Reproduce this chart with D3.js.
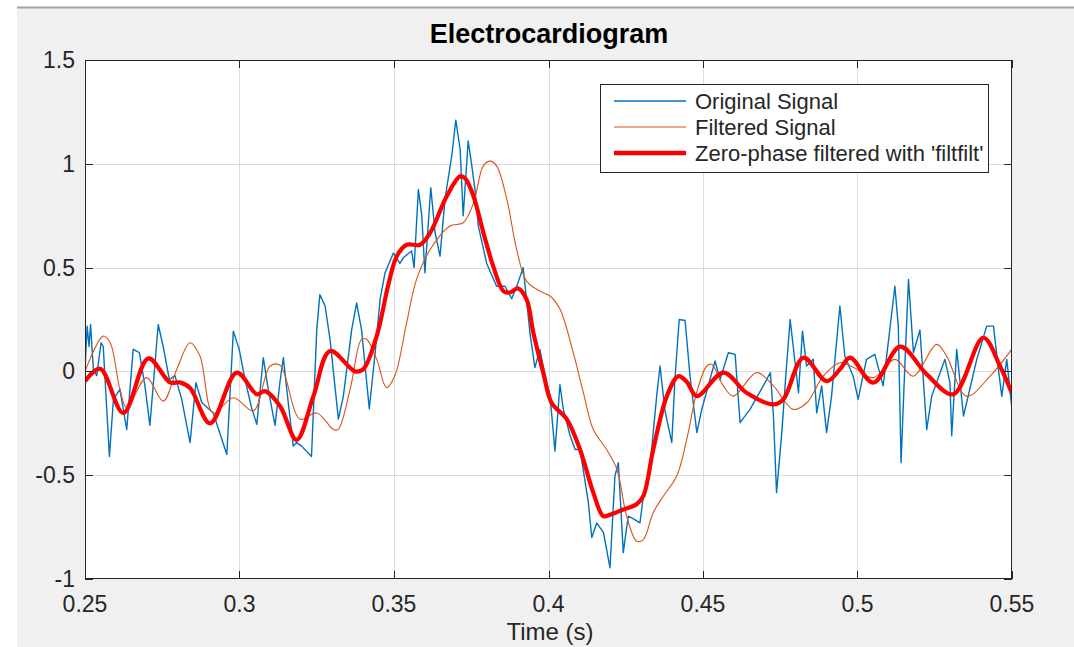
<!DOCTYPE html>
<html><head><meta charset="utf-8">
<script src="https://cdn.jsdelivr.net/npm/d3@7"></script>
<style>body{margin:0;background:#fff}svg{display:block}</style>
</head><body><svg id="c" width="1074" height="647"></svg>
<script>
const title = "Electrocardiogram";
const xLabel = "Time (s)";
const xTicks = [0.25,0.3,0.35,0.4,0.45,0.5,0.55];
const yTicks = [-1,-0.5,0,0.5,1,1.5];
const legendNames = ["Original Signal","Filtered Signal","Zero-phase filtered with 'filtfilt'"];
const originalSignal = [[0.25,0.01],[0.2507,0.218],[0.2513,0.12],[0.2518,0.226],[0.2527,0.01],[0.2538,-0.02],[0.2552,0.138],[0.2559,0.12],[0.2579,-0.41],[0.2592,-0.135],[0.2613,-0.087],[0.2635,-0.28],[0.2656,0.106],[0.2676,0.09],[0.2694,-0.07],[0.2710,-0.26],[0.2737,0.226],[0.2753,0.12],[0.2773,-0.04],[0.2791,-0.02],[0.2813,-0.135],[0.2840,-0.343],[0.2859,-0.054],[0.2878,-0.15],[0.2915,-0.2],[0.2959,-0.40],[0.2980,0.194],[0.2999,0.106],[0.3018,-0.04],[0.3039,-0.175],[0.3056,-0.255],[0.3077,0.066],[0.3093,-0.087],[0.3115,-0.26],[0.3131,-0.05],[0.3142,0.066],[0.3153,-0.087],[0.3174,-0.36],[0.3185,-0.343],[0.3201,-0.36],[0.3233,-0.41],[0.3250,0.2],[0.3260,0.37],[0.3277,0.315],[0.3293,0.154],[0.3320,-0.23],[0.3336,-0.12],[0.3363,0.2],[0.3379,0.33],[0.3395,0.2],[0.3420,-0.18],[0.3439,0.09],[0.3455,0.347],[0.3471,0.475],[0.3498,0.57],[0.3519,0.52],[0.3532,0.55],[0.3557,0.58],[0.3565,0.5],[0.3579,0.877],[0.3590,0.75],[0.3600,0.475],[0.3619,0.885],[0.3633,0.668],[0.3649,0.555],[0.3665,0.83],[0.3687,1.04],[0.3700,1.21],[0.3714,1.07],[0.3724,0.75],[0.3740,1.11],[0.3751,1.0],[0.3762,0.877],[0.3773,0.70],[0.3800,0.52],[0.3832,0.41],[0.3859,0.41],[0.3881,0.35],[0.3902,0.43],[0.3918,0.50],[0.3940,0.186],[0.3956,0.018],[0.3972,0.106],[0.3989,-0.02],[0.4005,-0.119],[0.4021,-0.384],[0.4037,-0.063],[0.4048,-0.183],[0.4070,-0.31],[0.4086,-0.376],[0.4102,-0.376],[0.4129,-0.632],[0.4140,-0.80],[0.4156,-0.73],[0.4178,-0.777],[0.4199,-0.946],[0.4215,-0.504],[0.4226,-0.44],[0.4242,-0.873],[0.4258,-0.697],[0.4275,-0.71],[0.4296,-0.73],[0.4307,-0.60],[0.4329,-0.45],[0.4350,-0.12],[0.4361,0.026],[0.4377,-0.19],[0.4399,-0.343],[0.4409,-0.04],[0.4423,0.25],[0.4442,0.245],[0.4458,-0.023],[0.4480,-0.295],[0.4496,-0.183],[0.4539,0.05],[0.4555,-0.04],[0.4582,0.09],[0.4604,0.082],[0.4620,-0.247],[0.4652,-0.183],[0.4695,-0.07],[0.4718,-0.006],[0.4728,-0.215],[0.4738,-0.584],[0.4755,-0.295],[0.4769,0.0],[0.4782,0.25],[0.4798,0.042],[0.4809,-0.103],[0.4822,0.194],[0.4835,0.026],[0.4857,0.058],[0.4868,-0.2],[0.4884,-0.07],[0.4900,-0.295],[0.4916,-0.119],[0.4943,0.315],[0.4959,0.074],[0.4986,-0.023],[0.5002,-0.135],[0.5029,0.058],[0.5056,0.082],[0.5083,-0.07],[0.5121,0.41],[0.5132,0.218],[0.5141,-0.44],[0.5154,0.058],[0.5165,0.443],[0.5181,0.09],[0.5202,0.2],[0.5224,-0.28],[0.5240,-0.12],[0.5283,0.058],[0.5299,-0.054],[0.5305,-0.31],[0.5321,0.106],[0.5343,-0.215],[0.5386,0.058],[0.5418,0.218],[0.5440,0.218],[0.5456,0.01],[0.5467,-0.12],[0.5483,0.058],[0.5499,-0.167]];
const filteredSignal = [[0.25,0.0],[0.2559,0.17],[0.2581,0.14],[0.2613,-0.087],[0.2635,-0.175],[0.2699,-0.03],[0.2753,-0.143],[0.2797,0.01],[0.2840,0.138],[0.2872,0.074],[0.2915,-0.2],[0.2980,-0.127],[0.3045,-0.19],[0.3099,0.026],[0.3131,0.03],[0.3196,-0.23],[0.3250,-0.2],[0.3304,-0.28],[0.3319,-0.28],[0.3358,-0.087],[0.3395,0.154],[0.3412,0.154],[0.3444,0.058],[0.3476,-0.079],[0.3503,-0.02],[0.3541,0.235],[0.3573,0.443],[0.3617,0.587],[0.3681,0.70],[0.3724,0.716],[0.3757,0.81],[0.3789,0.99],[0.3811,1.013],[0.3832,0.99],[0.3865,0.83],[0.3897,0.587],[0.3929,0.435],[0.3972,0.387],[0.4005,0.363],[0.4037,0.30],[0.4080,0.09],[0.4113,-0.103],[0.4145,-0.28],[0.4188,-0.376],[0.4221,-0.47],[0.4253,-0.697],[0.4285,-0.817],[0.4307,-0.81],[0.4339,-0.68],[0.4372,-0.60],[0.4415,-0.504],[0.4447,-0.33],[0.4480,-0.1],[0.4512,0.026],[0.4528,0.034],[0.4566,-0.07],[0.4598,-0.119],[0.4674,-0.006],[0.4728,-0.07],[0.4792,-0.183],[0.4836,-0.151],[0.4889,-0.023],[0.4943,0.042],[0.4986,0.02],[0.5051,-0.03],[0.5121,0.058],[0.5180,-0.023],[0.5256,0.13],[0.5288,0.075],[0.5353,-0.119],[0.5429,-0.023],[0.5499,0.106]];
const zeroPhaseSignal = [[0.25,-0.047],[0.2549,0.013],[0.2624,-0.20],[0.2705,0.063],[0.2775,-0.053],[0.2807,-0.053],[0.2840,-0.08],[0.2905,-0.25],[0.2991,-0.006],[0.3056,-0.11],[0.3083,-0.095],[0.3131,-0.167],[0.3185,-0.33],[0.3239,-0.12],[0.3293,0.098],[0.3374,0.0],[0.3400,0.01],[0.3444,0.17],[0.3482,0.42],[0.3509,0.555],[0.3541,0.61],[0.3584,0.61],[0.3617,0.668],[0.3671,0.845],[0.3714,0.94],[0.3730,0.93],[0.3757,0.845],[0.3789,0.67],[0.3821,0.507],[0.3854,0.387],[0.3875,0.38],[0.3901,0.40],[0.3929,0.347],[0.3951,0.186],[0.3983,-0.006],[0.4010,-0.151],[0.4059,-0.23],[0.4102,-0.376],[0.4145,-0.584],[0.4177,-0.697],[0.4199,-0.69],[0.4242,-0.665],[0.4285,-0.64],[0.4307,-0.60],[0.4339,-0.376],[0.4383,-0.119],[0.4420,-0.023],[0.4447,-0.05],[0.4480,-0.119],[0.4566,-0.006],[0.4641,-0.103],[0.4728,-0.159],[0.4760,-0.135],[0.4825,0.066],[0.4900,-0.047],[0.4943,0.01],[0.4976,0.066],[0.5051,-0.054],[0.5138,0.119],[0.5224,-0.014],[0.5310,-0.11],[0.5407,0.162],[0.5461,0.026],[0.5499,-0.103]];

const W = 1074, H = 647;
const m = {left:85, right:1012, top:60, bottom:579};
const svg = d3.select("#c");
const font = "'Liberation Sans', Arial, Helvetica, sans-serif";
const axisCol = "#262626";

svg.append("rect").attr("x",0).attr("y",0).attr("width",W).attr("height",H).attr("fill","#ffffff");
svg.append("rect").attr("x",17).attr("y",8).attr("width",W-17).attr("height",H-8).attr("fill","#f0f0f0");
svg.append("line").attr("x1",17).attr("x2",W).attr("y1",7.5).attr("y2",7.5).attr("stroke","#a0a0a0").attr("stroke-width",2);

const x = d3.scaleLinear().domain([0.25,0.55]).range([m.left,m.right]);
const y = d3.scaleLinear().domain([-1,1.5]).range([m.bottom,m.top]);

svg.append("rect").attr("x",m.left).attr("y",m.top).attr("width",m.right-m.left).attr("height",m.bottom-m.top).attr("fill","#fff");

// grid
const g = svg.append("g");
g.selectAll(".gx").data(xTicks.slice(1,-1)).join("line")
  .attr("x1",d=>Math.round(x(d))+0.5).attr("x2",d=>Math.round(x(d))+0.5)
  .attr("y1",m.top).attr("y2",m.bottom).attr("stroke","#dcdcdc").attr("stroke-width",1);
g.selectAll(".gy").data(yTicks.slice(1,-1)).join("line")
  .attr("y1",d=>Math.round(y(d))+0.5).attr("y2",d=>Math.round(y(d))+0.5)
  .attr("x1",m.left).attr("x2",m.right).attr("stroke","#dcdcdc").attr("stroke-width",1);

svg.append("clipPath").attr("id","clip").append("rect")
  .attr("x",m.left).attr("y",m.top).attr("width",m.right-m.left).attr("height",m.bottom-m.top);

const lineLin = d3.line().x(d=>x(d[0])).y(d=>y(d[1]));
const lineSmooth = d3.line().x(d=>x(d[0])).y(d=>y(d[1])).curve(d3.curveCatmullRom.alpha(0.5));
const plot = svg.append("g").attr("clip-path","url(#clip)");
plot.append("path").datum(originalSignal).attr("d",lineLin).attr("fill","none").attr("stroke","#0072bd").attr("stroke-width",1.4).attr("stroke-linejoin","round");
plot.append("path").datum(filteredSignal).attr("d",lineSmooth).attr("fill","none").attr("stroke","#d95319").attr("stroke-width",1.1);
plot.append("path").datum(zeroPhaseSignal).attr("d",lineSmooth).attr("fill","none").attr("stroke","#ff0000").attr("stroke-width",4.2).attr("stroke-linejoin","round");

// axes (box with inward ticks)
const tl = 8;
const ax = svg.append("g").attr("fill","none").attr("stroke",axisCol).attr("stroke-width",1);
ax.append("rect").attr("x",m.left+0.5).attr("y",m.top+0.5).attr("width",m.right-m.left-1).attr("height",m.bottom-m.top-1).attr("stroke",axisCol);
ax.selectAll(".tb").data(xTicks).join("line").attr("x1",d=>Math.round(x(d))+0.5).attr("x2",d=>Math.round(x(d))+0.5).attr("y1",m.bottom).attr("y2",m.bottom-tl);
ax.selectAll(".tt").data(xTicks).join("line").attr("x1",d=>Math.round(x(d))+0.5).attr("x2",d=>Math.round(x(d))+0.5).attr("y1",m.top).attr("y2",m.top+tl);
ax.selectAll(".tlf").data(yTicks).join("line").attr("y1",d=>Math.round(y(d))+0.5).attr("y2",d=>Math.round(y(d))+0.5).attr("x1",m.left).attr("x2",m.left+tl);
ax.selectAll(".trt").data(yTicks).join("line").attr("y1",d=>Math.round(y(d))+0.5).attr("y2",d=>Math.round(y(d))+0.5).attr("x1",m.right).attr("x2",m.right-tl);

const fmt = d=>String(d);
svg.selectAll(".xl").data(xTicks).join("text").attr("x",d=>x(d)).attr("y",612)
  .attr("text-anchor","middle").attr("font-family",font).attr("font-size",23).attr("fill",axisCol).text(fmt);
svg.selectAll(".yl").data(yTicks).join("text").attr("x",75).attr("y",d=>y(d)+8)
  .attr("text-anchor","end").attr("font-family",font).attr("font-size",23).attr("fill",axisCol).text(fmt);

svg.append("text").attr("x",549).attr("y",43).attr("text-anchor","middle")
  .attr("font-family",font).attr("font-weight","bold").attr("font-size",27).attr("fill","#000").text(title);
svg.append("text").attr("x",550).attr("y",640).attr("text-anchor","middle")
  .attr("font-family",font).attr("font-size",24).attr("fill",axisCol).text(xLabel);

// legend
const lg = svg.append("g");
lg.append("rect").attr("x",600.5).attr("y",84.5).attr("width",388).attr("height",88).attr("fill","#fff").attr("stroke",axisCol);
const lStyles = [["#0072bd",1.4],["#d95319",1.1],["#ff0000",4.5]];
legendNames.forEach((n,i)=>{
  const cy = 101 + i*26;
  lg.append("line").attr("x1",614).attr("x2",686).attr("y1",cy).attr("y2",cy).attr("stroke",lStyles[i][0]).attr("stroke-width",lStyles[i][1]);
  lg.append("text").attr("x",695).attr("y",cy+7.5).attr("font-family",font).attr("font-size",22).attr("fill",axisCol).text(n);
});
</script></body></html>
